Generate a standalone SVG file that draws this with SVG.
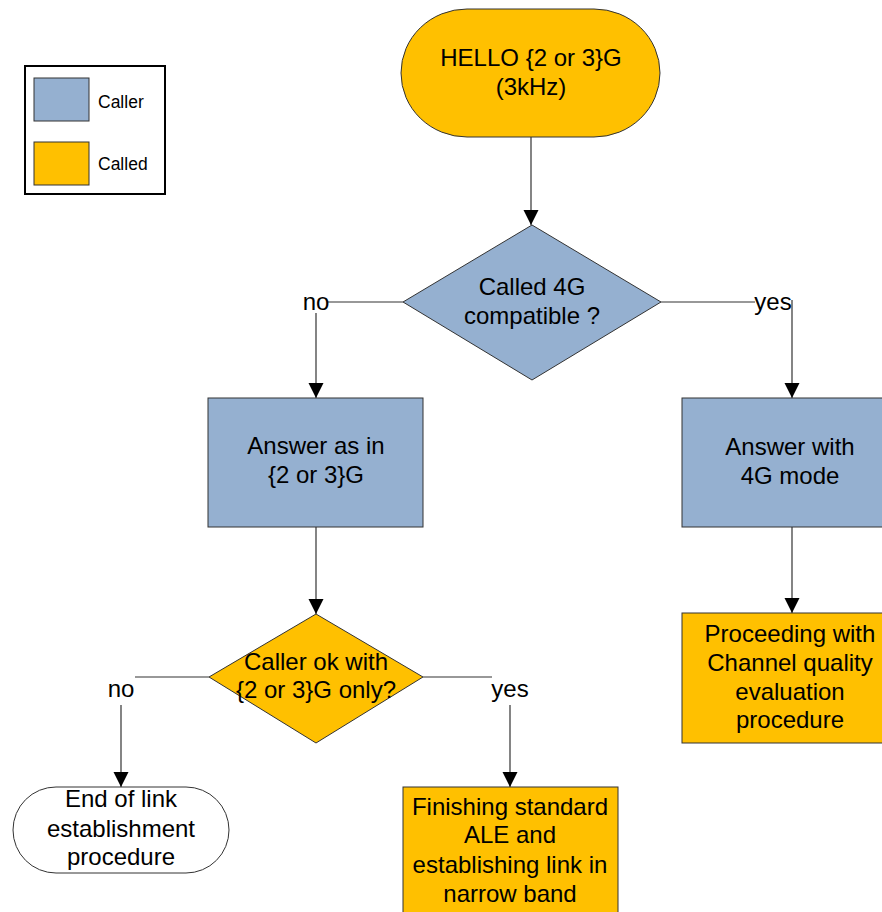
<svg xmlns="http://www.w3.org/2000/svg" width="882" height="912" viewBox="0 0 882 912">
<defs>
<marker id="arr" markerUnits="userSpaceOnUse" markerWidth="16" markerHeight="16" refX="15" refY="7.5" orient="auto">
<path d="M0,0 L15,7.5 L0,15 Z" fill="#000"/>
</marker>
<style>
text{font-family:"Liberation Sans",Arial,sans-serif;font-size:24px;fill:#000;text-anchor:middle}
.leg{font-size:17.5px;text-anchor:start}
.blue{fill:#95B0D0;stroke:#333;stroke-width:1}
.orange{fill:#FFC000;stroke:#333;stroke-width:1}
.white{fill:#fff;stroke:#333;stroke-width:1}
.conn{fill:none;stroke:#333;stroke-width:1.2}
.arrow{marker-end:url(#arr)}
</style>
</defs>
<rect width="882" height="912" fill="#fff"/>

<g id="legend">
<rect x="25" y="66" width="140" height="128" fill="#fff" stroke="#000" stroke-width="2"/>
<rect x="34" y="78" width="55" height="43" class="blue"/>
<text x="98" y="108" class="leg">Caller</text>
<rect x="34" y="142" width="55" height="43" class="orange"/>
<text x="98" y="170" class="leg">Called</text>
</g>

<g id="connectors">
<path class="conn arrow" d="M531,137 V225"/>
<path class="conn" d="M403,302 H328"/>
<path class="conn arrow" d="M316,313 V398"/>
<path class="conn" d="M661,302 H755"/>
<path class="conn arrow" d="M792,300 V398"/>
<path class="conn arrow" d="M316,527 V614"/>
<path class="conn arrow" d="M792,527 V613"/>
<path class="conn" d="M209,677 H135"/>
<path class="conn arrow" d="M121,705 V787"/>
<path class="conn" d="M423,677 H492"/>
<path class="conn arrow" d="M510,705 V787"/>
<text x="316" y="310">no</text>
<text x="773" y="310">yes</text>
<text x="121" y="697">no</text>
<text x="510" y="697">yes</text>
</g>

<g id="hello">
<rect x="401" y="9" width="259" height="128" rx="66" ry="64" class="orange"/>
<text x="531" y="66">HELLO {2 or 3}G</text>
<text x="531" y="95">(3kHz)</text>
</g>

<g id="decision1">
<polygon points="532,225 661,302 532,380 403,302" class="blue"/>
<text x="532" y="295">Called 4G</text>
<text x="532" y="324">compatible ?</text>
</g>

<g id="answer23">
<rect x="208" y="398" width="215" height="129" class="blue"/>
<text x="316" y="454">Answer as in</text>
<text x="316" y="483">{2 or 3}G</text>
</g>

<g id="answer4g">
<rect x="682" y="398" width="216" height="129" class="blue"/>
<text x="790" y="455">Answer with</text>
<text x="790" y="484">4G mode</text>
</g>

<g id="proceeding">
<rect x="682" y="613" width="216" height="130" class="orange"/>
<text x="790" y="642">Proceeding with</text>
<text x="790" y="671">Channel quality</text>
<text x="790" y="700">evaluation</text>
<text x="790" y="728">procedure</text>
</g>

<g id="decision2">
<polygon points="316,614 423,677 316,743 209,677" class="orange"/>
<text x="316" y="670">Caller ok with</text>
<text x="316" y="698">{2 or 3}G only?</text>
</g>

<g id="end">
<rect x="13" y="787" width="216" height="86" rx="43" ry="43" class="white"/>
<text x="121" y="807">End of link</text>
<text x="121" y="837">establishment</text>
<text x="121" y="865">procedure</text>
</g>

<g id="finishing">
<rect x="403" y="787" width="215" height="140" class="orange"/>
<text x="510" y="815">Finishing standard</text>
<text x="510" y="843">ALE and</text>
<text x="510" y="873">establishing link in</text>
<text x="510" y="902">narrow band</text>
</g>
</svg>
